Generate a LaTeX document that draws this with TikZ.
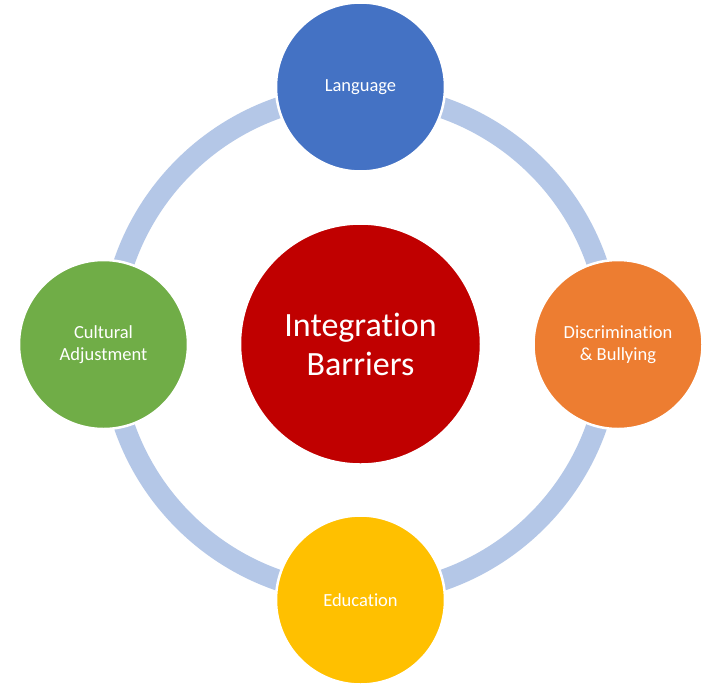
\documentclass[tikz,border=0pt]{standalone}
\usepackage{fontspec}
\setmainfont[RawFeature={-liga;-dlig;-clig}]{Carlito}
\definecolor{ringblue}{HTML}{B4C7E7}
\definecolor{cblue}{HTML}{4472C4}
\definecolor{corange}{HTML}{ED7D31}
\definecolor{cyellow}{HTML}{FFC000}
\definecolor{cgreen}{HTML}{70AD47}
\definecolor{cred}{HTML}{C00000}
\begin{document}
\begin{tikzpicture}[x=1pt,y=-1pt,
  bubble/.style={circle,draw=white,line width=2.5pt,text=white,align=center,inner sep=0pt,
    font=\fontsize{18.5}{22}\selectfont,minimum size=169pt},
  hub/.style={circle,draw=white,line width=2.5pt,text=white,align=center,inner sep=0pt,
    font=\fontsize{34}{39}\selectfont,minimum size=241pt,fill=cred}]
\useasboundingbox[fill=white] (0,0) rectangle (720,689);
\coordinate (c) at (360.5,344);
\draw[ringblue,line width=21pt] (c) circle[radius=250];
\node[hub] (hub) at (c) {Integration\\Barriers};
\node[bubble,fill=cblue] (lang) at (360.5,87) {Language};
\node[bubble,fill=corange] (disc) at (618,344.5) {Discrimination\\\& Bullying};
\node[bubble,fill=cyellow] (edu) at (360.5,600) {Education};
\node[bubble,fill=cgreen] (cult) at (103.5,344.5) {Cultural\\Adjustment};
\end{tikzpicture}
\end{document}
